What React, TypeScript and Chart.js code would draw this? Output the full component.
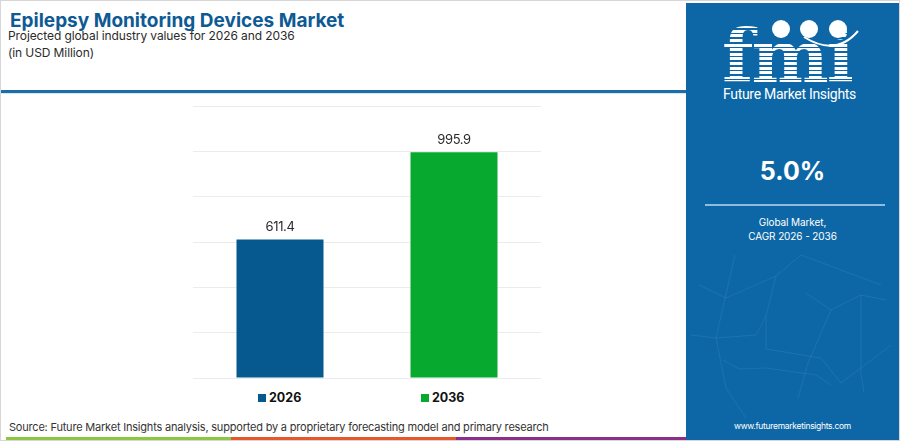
import React, { useEffect, useRef } from "react";
import { Chart, registerables } from "chart.js";

Chart.register(...registerables);

const categories = ["2026", "2036"];
const seriesLabels = ["2026", "2036"];
const values2026: (number | null)[] = [611.4, null];
const values2036: (number | null)[] = [null, 995.9];
const seriesColors = ["#05598f", "#08a92f"];
const yMin = 0;
const yMax = 1200;
const yStep = 200;
const title = "Epilepsy Monitoring Devices Market";
const subtitle = "Projected global industry values for 2026 and 2036";
const unitNote = "(in USD Million)";
const cagrValue = "5.0%";
const cagrText = ["Global Market,", "CAGR 2026 - 2036"];
const sourceText =
  "Source: Future Market Insights analysis, supported by a proprietary forecasting model and primary research";
const website = "www.futuremarketinsights.com";

const FONT = "Inter, 'Open Sans', 'DejaVu Sans', sans-serif";

const valueLabels = {
  id: "valueLabels",
  afterDatasetsDraw(chart: any) {
    const ctx = chart.ctx;
    chart.data.datasets.forEach((ds: any, i: number) => {
      const meta = chart.getDatasetMeta(i);
      meta.data.forEach((el: any, j: number) => {
        const v = ds.data[j];
        if (v == null) return;
        ctx.save();
        ctx.font = "13px " + FONT;
        try {
          (ctx as any).letterSpacing = "-0.4px";
        } catch (e) {}
        ctx.fillStyle = "#2b2b2b";
        ctx.textAlign = "center";
        ctx.textBaseline = "bottom";
        ctx.fillText(v.toFixed(1), el.x, el.y - 6);
        ctx.restore();
      });
    });
  },
};

function BarChart() {
  const ref = useRef<HTMLCanvasElement | null>(null);
  useEffect(() => {
    if (!ref.current) return;
    const chart = new Chart(ref.current, {
      type: "bar",
      data: {
        labels: categories,
        datasets: [
          {
            label: seriesLabels[0],
            data: values2026,
            backgroundColor: seriesColors[0],
            grouped: false,
            barPercentage: 0.5,
            categoryPercentage: 1,
          },
          {
            label: seriesLabels[1],
            data: values2036,
            backgroundColor: seriesColors[1],
            grouped: false,
            barPercentage: 0.5,
            categoryPercentage: 1,
          },
        ] as any,
      },
      options: {
        animation: false,
        responsive: false,
        maintainAspectRatio: false,
        layout: { padding: { left: 12, right: 20, top: 10, bottom: 10 } },
        plugins: {
          legend: { display: false },
          tooltip: { enabled: false },
        },
        scales: {
          x: { display: false },
          y: {
            min: yMin,
            max: yMax,
            ticks: { stepSize: yStep, display: false },
            grid: { color: "#ececec", lineWidth: 1, drawTicks: false },
            border: { display: false },
          },
        },
      },
      plugins: [valueLabels],
    });
    return () => chart.destroy();
  }, []);
  return (
    <canvas
      ref={ref}
      width={380}
      height={292}
      style={{ position: "absolute", left: 180, top: 95, width: 380, height: 292 }}
    />
  );
}

function Logo() {
  return (
    <div style={{ position: "absolute", left: 0, top: 0, width: 215, height: 110 }}>
      <svg width={215} height={110} style={{ position: "absolute", left: 0, top: 0 }}>
        <circle cx={95} cy={26} r={9} fill="#ffffff" />
        <circle cx={123} cy={26} r={9} fill="#ffffff" />
        <circle cx={152} cy={26} r={9} fill="#ffffff" />
        <path d="M 118 34 Q 150 54 172 28" stroke="#ffffff" strokeWidth={2} fill="none" />
      </svg>
      <div
        style={{
          position: "absolute",
          left: 36,
          top: 13,
          fontFamily: "'DejaVu Serif', serif",
          fontWeight: 700,
          fontSize: 73,
          lineHeight: "80px",
          letterSpacing: -2,
          color: "transparent",
          backgroundImage:
            "repeating-linear-gradient(to bottom, #ffffff 0px, #ffffff 3px, transparent 3px, transparent 4.6px)",
          WebkitBackgroundClip: "text",
          backgroundClip: "text",
        }}
      >
        fmi
      </div>
      <div
        style={{
          position: "absolute",
          left: -4,
          width: 215,
          top: 83,
          textAlign: "center",
          fontFamily: "Roboto, sans-serif",
          fontSize: 14,
          color: "#ffffff",
          letterSpacing: -0.3,
        }}
      >
        Future Market Insights
      </div>
    </div>
  );
}

function Network() {
  const stroke = "rgba(255,255,255,0.07)";
  return (
    <svg width={213} height={200} style={{ position: "absolute", left: 0, top: 240 }}>
      <g stroke={stroke} strokeWidth={1} fill="none">
        <path d="M 49 12 L 43 38 L 30 95 L 40 145 L 60 175" />
        <path d="M 13 42 L 40 55 L 90 33 L 115 12 L 195 42" />
        <path d="M 90 33 L 80 73 L 80 106 L 135 115 L 155 140 L 205 102" />
        <path d="M 120 50 L 145 67 L 175 52 L 200 57" />
        <path d="M 5 92 L 30 95 L 70 92 L 80 73" />
        <path d="M 37 117 L 53 126 L 80 125 L 130 132 L 145 142" />
        <path d="M 175 52 L 175 130 L 178 150" />
        <path d="M 145 67 L 122 120 L 112 155" />
      </g>
    </svg>
  );
}

export default function App() {
  return (
    <div
      style={{
        position: "absolute",
        left: 0,
        top: 0,
        width: 900,
        height: 441,
        boxSizing: "border-box",
        border: "1px solid #d6d6d6",
        background: "#ffffff",
        overflow: "hidden",
        fontFamily: FONT,
      }}
    >
      <div
        style={{
          position: "absolute",
          left: 9,
          top: 9,
          fontSize: 19,
          lineHeight: "22px",
          fontWeight: 700,
          color: "#0d5a94",
          whiteSpace: "nowrap",
        }}
      >
        {title}
      </div>
      <div
        style={{
          position: "absolute",
          left: 7,
          top: 26,
          fontSize: 12,
          lineHeight: "17px",
          letterSpacing: -0.1,
          color: "#2b2b2b",
          whiteSpace: "nowrap",
        }}
      >
        <div>{subtitle}</div>
        <div>{unitNote}</div>
      </div>
      <div style={{ position: "absolute", left: 0, top: 89, width: 685, height: 3, background: "#1c6ea8" }} />
      <div style={{ position: "absolute", left: 0, top: 92, width: 685, height: 1, background: "#d8e6f0" }} />

      <BarChart />

      <div style={{ position: "absolute", left: 257, top: 393, width: 8, height: 8, background: seriesColors[0] }} />
      <div
        style={{
          position: "absolute",
          left: 268,
          top: 389,
          fontSize: 12.5,
          lineHeight: "16px",
          fontWeight: 700,
          color: "#111",
        }}
      >
        {seriesLabels[0]}
      </div>
      <div style={{ position: "absolute", left: 420, top: 393, width: 8, height: 8, background: seriesColors[1] }} />
      <div
        style={{
          position: "absolute",
          left: 431,
          top: 389,
          fontSize: 12.5,
          lineHeight: "16px",
          fontWeight: 700,
          color: "#111",
        }}
      >
        {seriesLabels[1]}
      </div>

      <div
        style={{
          position: "absolute",
          left: 8,
          top: 418,
          fontSize: 11,
          lineHeight: "16px",
          letterSpacing: -0.2,
          color: "#333",
          whiteSpace: "nowrap",
        }}
      >
        {sourceText}
      </div>

      <div style={{ position: "absolute", left: 5, top: 436, width: 225, height: 5, background: "#8dc63f" }} />
      <div style={{ position: "absolute", left: 230, top: 436, width: 225, height: 5, background: "#e8572a" }} />
      <div style={{ position: "absolute", left: 455, top: 436, width: 230, height: 5, background: "#8b2f8c" }} />

      <div
        style={{
          position: "absolute",
          left: 685,
          top: 2,
          width: 213,
          height: 439,
          background: "#0d67a6",
          color: "#ffffff",
        }}
      >
        <Network />
        <Logo />
        <div
          style={{
            position: "absolute",
            left: 0,
            width: 213,
            top: 152,
            textAlign: "center",
            fontSize: 25,
            fontWeight: 700,
            lineHeight: "32px",
          }}
        >
          {cagrValue}
        </div>
        <div style={{ position: "absolute", left: 19, top: 201, width: 180, height: 2, background: "#8fbde0" }} />
        <div
          style={{
            position: "absolute",
            left: 0,
            width: 213,
            top: 212,
            textAlign: "center",
            fontSize: 10,
            lineHeight: "14px",
            letterSpacing: -0.1,
          }}
        >
          <div>{cagrText[0]}</div>
          <div>{cagrText[1]}</div>
        </div>
        <div
          style={{
            position: "absolute",
            left: 0,
            width: 213,
            top: 417,
            textAlign: "center",
            fontSize: 8.5,
            lineHeight: "12px",
            letterSpacing: -0.3,
          }}
        >
          {website}
        </div>
      </div>
    </div>
  );
}
